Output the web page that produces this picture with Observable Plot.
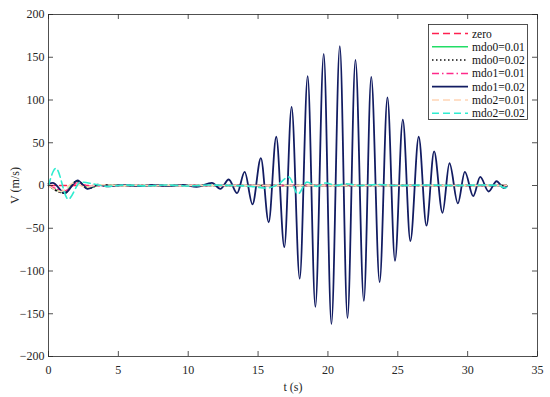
<!DOCTYPE html>
<html>
<head>
<meta charset="utf-8">
<script src="https://cdn.jsdelivr.net/npm/d3@7"></script>
<script src="https://cdn.jsdelivr.net/npm/@observablehq/plot@0.6"></script>
<style>
  html, body { margin: 0; padding: 0; background: #fff; }
  #wrap { position: relative; width: 550px; height: 397px; font-family: "Liberation Serif", "Times New Roman", serif; }
  #legend { position: absolute; left: 428px; top: 24px; }
</style>
</head>
<body>
<div id="wrap"></div>
<script>
// ---- data ----
const seriesNames = ["zero", "mdo0=0.01", "mdo0=0.02", "mdo1=0.01", "mdo1=0.02", "mdo2=0.01", "mdo2=0.02"];

const tZero = [0, 32.8];
const vZero = [0, 0];

const tMdo0a = [0, 1.1, 2.0, 2.9, 3.8, 5.0, 32.8];
const vMdo0a = [0, -8, 5, -3, 1, 0, 0];

const tMdo0b = [0, 1.15, 2.05, 2.85, 3.7, 5.0, 32.8];
const vMdo0b = [0, -9, 5.5, -3.5, 1, 0, 0];

const tMdo1a = [0, 1.2, 2.1, 3.0, 4.0, 32.8];
const vMdo1a = [0, -6, 3, -1, 0, 0];

const tMdo1b = [0, 0.3, 1.17, 2.08, 2.8, 3.5, 4.3, 5.3, 6.4, 7.5, 8.6, 9.6, 10.6,
  11.7, 12.3, 12.9, 13.5, 14.04, 14.6, 15.2, 15.76, 16.3, 16.88, 17.4, 17.98, 18.55,
  19.1, 19.7, 20.25, 20.85, 21.4, 21.97, 22.57, 23.1, 23.7, 24.26, 24.8, 25.36, 25.9,
  26.5, 27.05, 27.6, 28.2, 28.7, 29.3, 29.8, 30.4, 30.9, 31.5, 32.07, 32.6, 32.8];
const vMdo1b = [2, 3, -9, 6, -4, 1, -1, 0.8, -0.8, 0.6, -0.6, 0.8, -1.5,
  3, -4, 7, -9, 16, -22, 32, -43, 57, -72, 92, -109, 128,
  -142, 154, -162, 163, -155, 147, -135, 127, -113, 103, -88, 77, -65,
  57, -47, 40, -32, 26, -21, 16, -12.5, 10, -7, 5, -3, -1];

const tMdo2a = [0, 0.9, 1.8, 2.7, 3.6, 5.0, 32.8];
const vMdo2a = [0, -7, 3, -2, 1, 0, 0];

const tMdo2b = [0, 0.53, 1.41, 2.3, 3.2, 4.2, 5.5, 7.0, 8.5, 10.0, 11.5, 13.0, 14.5,
  15.6, 16.4, 17.2, 17.85, 18.5, 19.2, 19.85, 20.6, 21.3, 22.2, 23.5, 25.0, 27.0,
  29.0, 31.0, 32.2, 32.7, 32.8];
const vMdo2b = [0, 20, -16, 4, 2, -1, 0.5, -0.5, 0.5, -0.5, 0.5, 0, -1,
  -3, 1, 10, -10, 4, -1, 3, 0, 2, 0, 1, 0, 0.5,
  0, 0.5, 0, -3, -2];

const xTicks = [0, 5, 10, 15, 20, 25, 30, 35];
const yTicks = [-200, -150, -100, -50, 0, 50, 100, 150, 200];

// ---- styles ----
const styles = [
  {stroke: "#ff2050", strokeDasharray: "7,4", strokeWidth: 1.5},
  {stroke: "#22dd66", strokeWidth: 1.5},
  {stroke: "#111111", strokeDasharray: "1.5,2.5", strokeWidth: 1.5},
  {stroke: "#ff2a8a", strokeDasharray: "7,3,1.5,3", strokeWidth: 1.5},
  {stroke: "#121c62", strokeWidth: 1.8},
  {stroke: "#ffd5b5", strokeDasharray: "7,4", strokeWidth: 1.5},
  {stroke: "#30ecd0", strokeDasharray: "7,4", strokeWidth: 1.6}
];

const raw = [[tZero, vZero], [tMdo0a, vMdo0a], [tMdo0b, vMdo0b], [tMdo1a, vMdo1a],
             [tMdo1b, vMdo1b], [tMdo2a, vMdo2a], [tMdo2b, vMdo2b]];
const series = raw.map(([t, v], i) => t.map((tt, j) => ({t: tt, v: v[j], s: seriesNames[i]})));

const W = 550, H = 397, mL = 48, mR = 13, mT = 14, mB = 41;
const pw = W - mL - mR, ph = H - mT - mB;
const fontFam = '"Liberation Serif", "Times New Roman", serif';

const lineMarks = series.map((d, i) =>
  Plot.line(d, {x: "t", y: "v", curve: i === 0 ? "linear" : "monotone-x", ...styles[i]}));

const chart = Plot.plot({
  width: W, height: H,
  marginLeft: mL, marginRight: mR, marginTop: mT, marginBottom: mB,
  style: {fontFamily: fontFam, fontSize: "12px", color: "#262626", background: "white"},
  x: {domain: [0, 35]},
  y: {domain: [-200, 200]},
  marks: [
    ...lineMarks,
    Plot.frame({stroke: "#262626", strokeWidth: 0.8}),
    Plot.tickX(xTicks, {x: d => d, insetTop: ph - 5, stroke: "#262626", strokeWidth: 0.8}),
    Plot.tickX(xTicks, {x: d => d, insetBottom: ph - 5, stroke: "#262626", strokeWidth: 0.8}),
    Plot.tickY(yTicks, {y: d => d, insetRight: pw - 5, stroke: "#262626", strokeWidth: 0.8}),
    Plot.tickY(yTicks, {y: d => d, insetLeft: pw - 5, stroke: "#262626", strokeWidth: 0.8}),
    Plot.axisX(xTicks, {tickSize: 0, tickPadding: 9, label: "t (s)", labelAnchor: "center", labelOffset: 34, labelArrow: "none", fontSize: 12}),
    Plot.axisY(yTicks, {tickSize: 0, tickPadding: 4, label: "V (m/s)", labelAnchor: "center", labelOffset: 38, labelArrow: "none", fontSize: 12})
  ]
});
document.getElementById("wrap").appendChild(chart);

// ---- legend overlay ----
const lw = 99, lh = 95;
const leg = d3.select("#wrap").append("svg")
  .attr("id", "legend").attr("width", lw + 1).attr("height", lh + 1);
leg.append("rect").attr("x", 0.5).attr("y", 0.5).attr("width", lw).attr("height", lh)
  .attr("fill", "white").attr("stroke", "#262626").attr("stroke-width", 0.8);
seriesNames.forEach((name, i) => {
  const y = 9.5 + i * 13.3;
  const st = styles[i];
  leg.append("line").attr("x1", 4).attr("x2", 40).attr("y1", y).attr("y2", y)
    .attr("stroke", st.stroke).attr("stroke-width", st.strokeWidth)
    .attr("stroke-dasharray", st.strokeDasharray || null);
  leg.append("text").attr("x", 44).attr("y", y).attr("dy", "0.35em")
    .attr("font-family", fontFam).attr("font-size", 11.5).attr("fill", "#111")
    .text(name);
});
</script>
</body>
</html>
